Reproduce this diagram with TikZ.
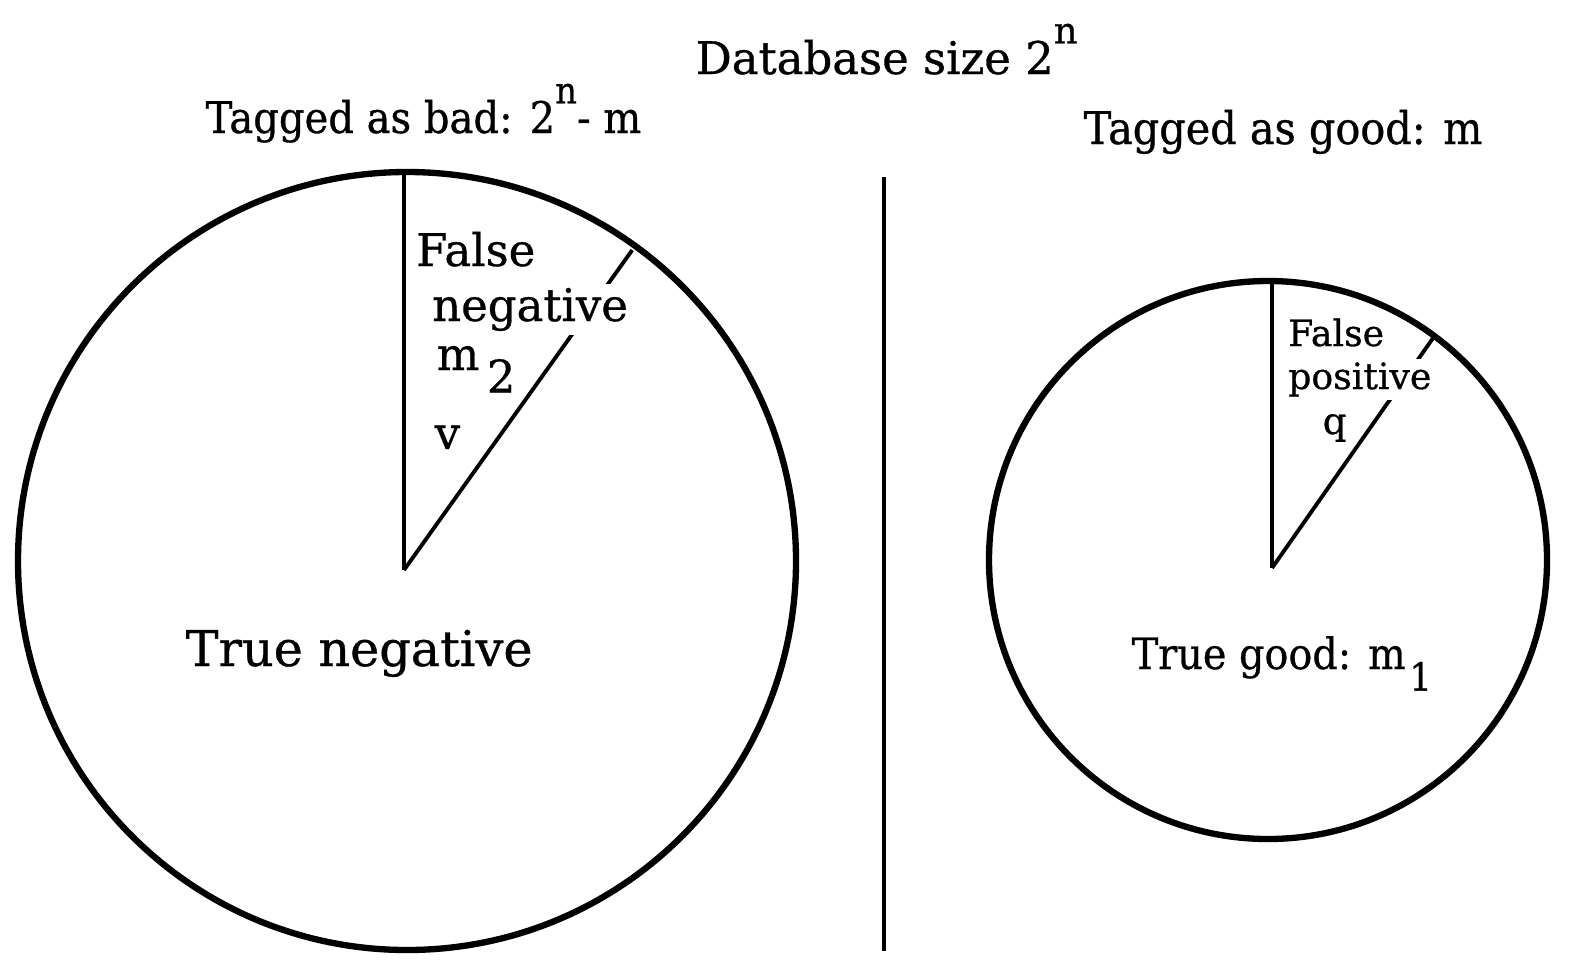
\documentclass[tikz,border=0pt]{standalone}
\usepackage{fontspec}
\setmainfont{DejaVu Serif}[FakeBold=0.7]
\newfontfamily\narrowfont{DejaVu Serif}[FakeStretch=0.92,FakeBold=0.7]
\usetikzlibrary{positioning}
\tikzstyle{lbl} = [anchor=base west,inner sep=0pt,font=\fontsize{12.8}{15}\selectfont]
\tikzstyle{mask} = [lbl,fill=white,inner sep=1pt]
\tikzstyle{pie} = [line width=1.8pt]
\tikzstyle{cut} = [line width=1.1pt]
\tikzset{>=latex}
\newcommand{\hi}[1]{\raisebox{0.68em}{\fontsize{10.5}{11}\selectfont #1}}
\newcommand{\lo}[1]{\raisebox{-0.5em}{#1}}

\begin{document}
\begin{tikzpicture}
    \useasboundingbox (0,0) rectangle (15.83,-9.67);
    % tagged as bad
    \draw [pie] (4.07,-5.61) circle (3.89);
    \coordinate (bc) at (4.04,-5.70);
    \coordinate (bt) at (4.04,-1.73);
    \draw [cut] (bc) -- (bt);
    \draw [cut] (bc) -- ++(54.5:3.93) coordinate (bs);
    % tagged as good
    \draw [pie] (12.68,-5.60) circle (2.79);
    \coordinate (gc) at (12.72,-5.68);
    \coordinate (gt) at (12.72,-2.81);
    \draw [cut] (gc) -- (gt);
    \draw [cut] (gc) -- ++(55:2.83) coordinate (gs);
    % divider
    \coordinate (dt) at (8.84,-1.77);
    \coordinate (db) at (8.84,-9.51);
    \draw [cut] (dt) -- (db);
    % labels
    \node [lbl] (size) at (6.95,-0.74) {Database size 2\hi{n}};
    \node [lbl,font=\narrowfont\fontsize{12.4}{15}\selectfont] (bad) at (2.05,-1.33) {Tagged as bad: 2\hi{n}- m};
    \node [lbl,font=\narrowfont\fontsize{12.8}{15}\selectfont] (good) at (10.83,-1.44) {Tagged as good: m};
    \node [lbl,font=\fontsize{14}{16}\selectfont] (tn) at (1.85,-6.66) {True negative};
    \node [lbl,font=\narrowfont\fontsize{12.3}{15}\selectfont] (tg) at (11.31,-6.69) {True good: m\kern1pt\lo{\fontsize{11}{12}\selectfont 1}};
    \node [mask] (fn1) at (4.12,-2.66) {False};
    \node [mask] (fn2) at (4.28,-3.21) {negative};
    \node [lbl] (fn3) at (4.36,-3.70) {m\,\lo{2}};
    \node [lbl] (fn4) at (4.34,-4.49) {v};
    \node [mask,font=\fontsize{10.3}{13}\selectfont] (fp1) at (12.84,-3.46) {False};
    \node [mask,font=\fontsize{10.3}{13}\selectfont] (fp2) at (12.84,-3.89) {positive};
    \node [lbl,font=\fontsize{10.6}{13}\selectfont] (fp3) at (13.22,-4.34) {q};
\end{tikzpicture}
\end{document}
